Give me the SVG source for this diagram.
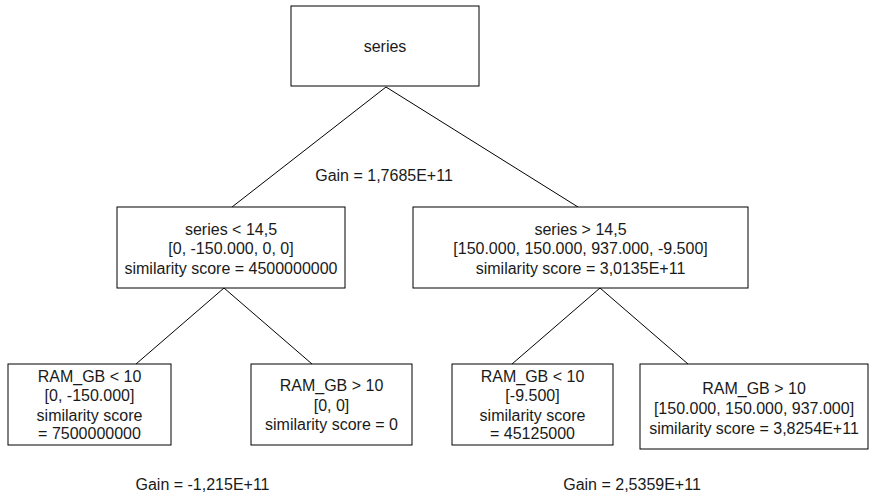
<svg xmlns="http://www.w3.org/2000/svg" width="873" height="496" viewBox="0 0 873 496">
  <style>
    .box { fill: #ffffff; stroke: #000000; stroke-width: 1; }
    .edge { fill: none; stroke: #000000; stroke-width: 1; }
    text { font-family: "Liberation Sans", Arial, Helvetica, sans-serif; font-size: 16px; fill: #1a1a1a; text-anchor: middle; }
  </style>
  <rect width="873" height="496" fill="#ffffff"/>

  <!-- tree edges -->
  <g id="connectors">
    <polyline class="edge" points="232,207 386,87 578,207"/>
    <polyline class="edge" points="136,364 224,288 312,364"/>
    <polyline class="edge" points="512,364 600,288 688,364"/>
  </g>

  <!-- root -->
  <g id="root">
    <rect class="box" x="291" y="6" width="188" height="80"/>
    <text x="385" y="52">series</text>
  </g>

  <!-- first split -->
  <g id="left-split">
    <rect class="box" x="117" y="207" width="228" height="81"/>
    <text x="231" y="234.5">series &lt; 14,5</text>
    <text x="231" y="254">[0, -150.000, 0, 0]</text>
    <text x="231" y="273.5">similarity score = 4500000000</text>
  </g>
  <g id="right-split">
    <rect class="box" x="413" y="207" width="335" height="81"/>
    <text x="580.5" y="234.5">series &gt; 14,5</text>
    <text x="580.5" y="254">[150.000, 150.000, 937.000, -9.500]</text>
    <text x="580.5" y="273.5">similarity score = 3,0135E+11</text>
  </g>

  <!-- leaves -->
  <g id="leaf-left-lt">
    <rect class="box" x="8" y="364" width="163" height="81"/>
    <text x="89.5" y="381.5">RAM_GB &lt; 10</text>
    <text x="89.5" y="401">[0, -150.000]</text>
    <text x="89.5" y="420.5">similarity score</text>
    <text x="89.5" y="439">= 7500000000</text>
  </g>
  <g id="leaf-left-gt">
    <rect class="box" x="251" y="364" width="161" height="81"/>
    <text x="331.5" y="391">RAM_GB &gt; 10</text>
    <text x="331.5" y="410.5">[0, 0]</text>
    <text x="331.5" y="429.5">similarity score = 0</text>
  </g>
  <g id="leaf-right-lt">
    <rect class="box" x="452" y="364" width="161" height="81"/>
    <text x="532.5" y="381.5">RAM_GB &lt; 10</text>
    <text x="532.5" y="401">[-9.500]</text>
    <text x="532.5" y="420.5">similarity score</text>
    <text x="532.5" y="439">= 45125000</text>
  </g>
  <g id="leaf-right-gt">
    <rect class="box" x="640" y="364" width="228" height="85"/>
    <text x="754" y="393.5">RAM_GB &gt; 10</text>
    <text x="754" y="414">[150.000, 150.000, 937.000]</text>
    <text x="754" y="433.5">similarity score = 3,8254E+11</text>
  </g>

  <!-- gain labels -->
  <g id="gains">
    <text x="384" y="180.5">Gain = 1,7685E+11</text>
    <text x="202.5" y="489.5">Gain = -1,215E+11</text>
    <text x="632" y="489.5">Gain = 2,5359E+11</text>
  </g>
</svg>
